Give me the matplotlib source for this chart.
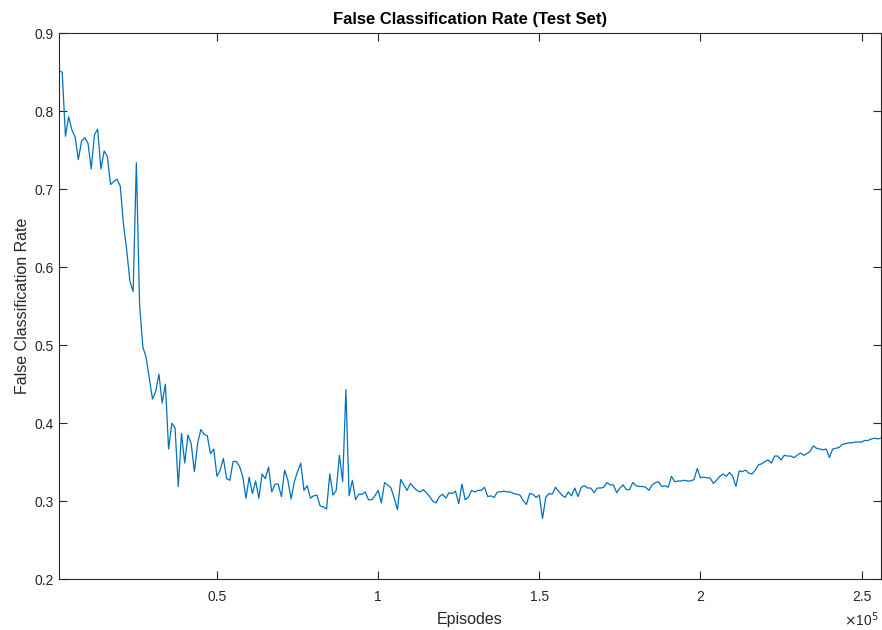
import numpy as np
import matplotlib
matplotlib.use('Agg')
import matplotlib.pyplot as plt

plt.rcParams['font.family'] = ['Liberation Sans', 'DejaVu Sans']

# 测试集误分类率，每 1000 个 episode 记录一次（从 1000 开始）
EPISODE_STEP = 1000
false_rate = [
    0.852, 0.850, 0.768, 0.793, 0.776, 0.767, 0.738, 0.762, 0.766, 0.759,
    0.726, 0.770, 0.777, 0.726, 0.749, 0.742, 0.706, 0.710, 0.713, 0.704,
    0.655, 0.622, 0.582, 0.569, 0.734, 0.552, 0.498, 0.485, 0.458, 0.431,
    0.441, 0.463, 0.426, 0.450, 0.367, 0.400, 0.394, 0.319, 0.387, 0.349,
    0.385, 0.374, 0.338, 0.374, 0.392, 0.386, 0.384, 0.361, 0.367, 0.332,
    0.340, 0.355, 0.329, 0.327, 0.351, 0.351, 0.345, 0.332, 0.304, 0.331,
    0.310, 0.326, 0.304, 0.335, 0.329, 0.344, 0.312, 0.322, 0.322, 0.306,
    0.340, 0.327, 0.303, 0.325, 0.338, 0.349, 0.314, 0.320, 0.304, 0.307,
    0.308, 0.294, 0.293, 0.290, 0.335, 0.308, 0.314, 0.359, 0.325, 0.443,
    0.307, 0.327, 0.302, 0.309, 0.309, 0.312, 0.302, 0.302, 0.307, 0.314,
    0.298, 0.324, 0.321, 0.317, 0.304, 0.289, 0.328, 0.321, 0.314, 0.323,
    0.318, 0.314, 0.312, 0.315, 0.311, 0.306, 0.300, 0.298, 0.306, 0.309,
    0.304, 0.311, 0.310, 0.313, 0.297, 0.322, 0.302, 0.305, 0.314, 0.312,
    0.314, 0.314, 0.318, 0.306, 0.307, 0.305, 0.312, 0.312, 0.313, 0.312,
    0.312, 0.310, 0.309, 0.308, 0.301, 0.296, 0.310, 0.309, 0.305, 0.308,
    0.278, 0.305, 0.310, 0.309, 0.318, 0.313, 0.308, 0.305, 0.312, 0.307,
    0.317, 0.306, 0.318, 0.320, 0.317, 0.317, 0.311, 0.317, 0.317, 0.318,
    0.324, 0.321, 0.321, 0.311, 0.317, 0.321, 0.315, 0.315, 0.324, 0.320,
    0.319, 0.319, 0.318, 0.314, 0.321, 0.324, 0.325, 0.319, 0.320, 0.318,
    0.332, 0.325, 0.326, 0.326, 0.327, 0.326, 0.326, 0.328, 0.342, 0.330,
    0.331, 0.330, 0.330, 0.323, 0.327, 0.332, 0.335, 0.332, 0.337, 0.332,
    0.319, 0.339, 0.338, 0.340, 0.336, 0.335, 0.340, 0.347, 0.348, 0.351,
    0.353, 0.349, 0.358, 0.358, 0.353, 0.359, 0.358, 0.358, 0.356, 0.359,
    0.362, 0.359, 0.361, 0.364, 0.371, 0.368, 0.367, 0.366, 0.367, 0.356,
    0.367, 0.368, 0.369, 0.373, 0.374, 0.375, 0.375, 0.376, 0.376, 0.376,
    0.378, 0.378, 0.380, 0.381, 0.380, 0.381,
]
episodes = np.arange(1, len(false_rate) + 1) * EPISODE_STEP

x_ticks = [50000, 100000, 150000, 200000, 250000]
x_tick_labels = ['0.5', '1', '1.5', '2', '2.5']
y_ticks = [0.2, 0.3, 0.4, 0.5, 0.6, 0.7, 0.8, 0.9]

AX_COLOR = '#262626'

fig = plt.figure(figsize=(8.82, 6.30), dpi=100)
ax = fig.add_axes([59 / 882, 1 - 579.3 / 630, (881 - 59) / 882, (579.3 - 33.3) / 630])

ax.plot(episodes, false_rate, color='#0072BD', linewidth=0.9)

ax.set_xlim(episodes[0], episodes[-1])
ax.set_ylim(0.2, 0.9)
ax.set_xticks(x_ticks)
ax.set_xticklabels(x_tick_labels)
ax.set_yticks(y_ticks)
ax.set_yticklabels([f'{v:.1f}' for v in y_ticks])

for s in ax.spines.values():
    s.set_color(AX_COLOR)
    s.set_linewidth(0.8)
ax.tick_params(direction='in', length=6, width=0.8, color=AX_COLOR,
               labelcolor=AX_COLOR, labelsize=10,
               top=True, right=True)
ax.tick_params(axis='x', pad=8)
ax.tick_params(axis='y', pad=4)

ax.set_title('False Classification Rate (Test Set)', fontsize=12,
             fontweight='bold', color='black', pad=7)
ax.set_xlabel('Episodes', fontsize=11.5, color=AX_COLOR, labelpad=5.5)
ax.set_ylabel('False Classification Rate', fontsize=11.5, color=AX_COLOR, labelpad=3)

# MATLAB 风格的 ×10^5 指数标记
fig.text(879 / 882, 1 - 620 / 630, r'$\times$10$^{5}$', ha='right', va='center',
         fontsize=10, color=AX_COLOR)

fig.savefig('out.png', dpi=100)
